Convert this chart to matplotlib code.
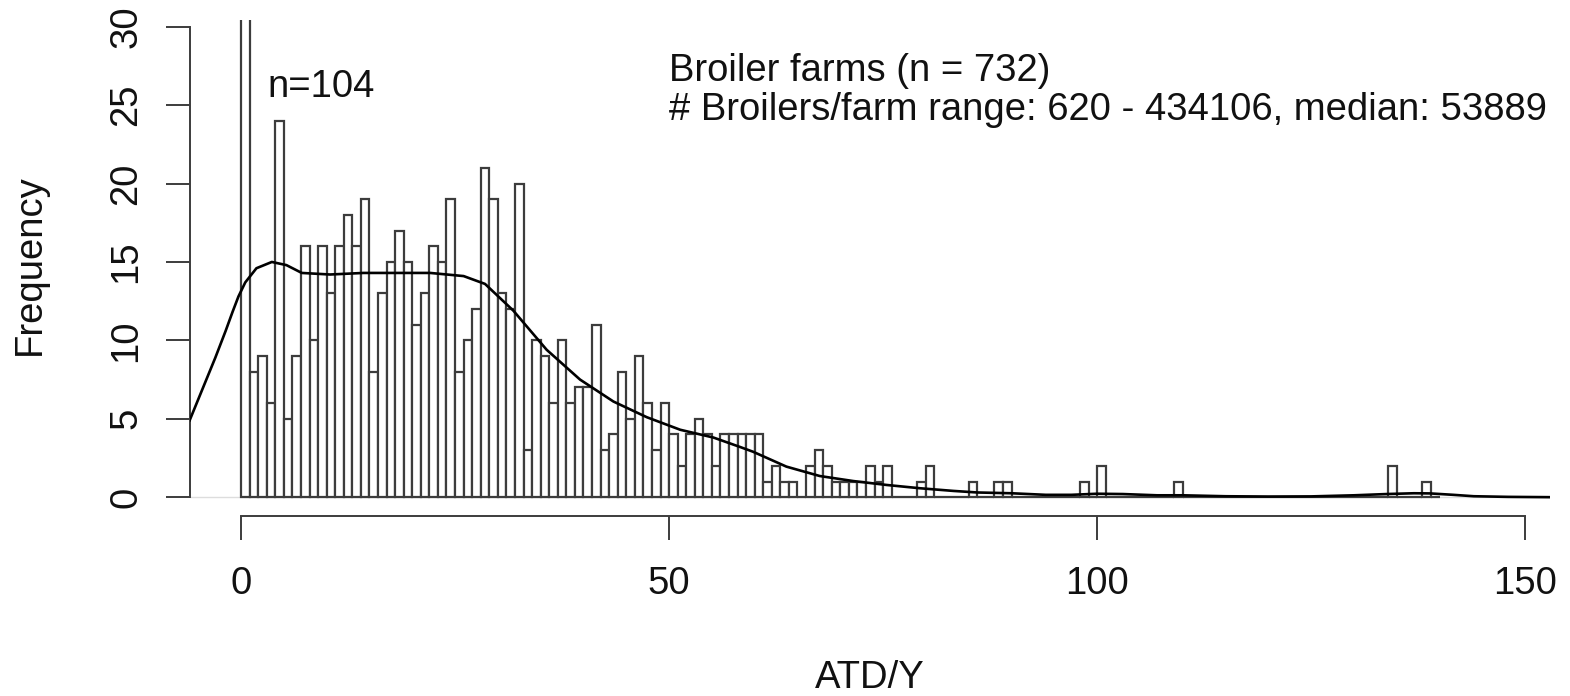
import numpy as np
import matplotlib.pyplot as plt

plt.rcParams['font.family'] = ['Liberation Sans', 'DejaVu Sans']

# histogram counts, 1-unit bins starting at 0
bin_left = np.arange(0, 140)
counts = np.zeros(140)
counts[0:29] = [104, 8, 9, 6, 24, 5, 9, 16, 10, 16, 13, 16, 18, 16, 19, 8, 13, 15,
                17, 15, 11, 13, 16, 15, 19, 8, 10, 12, 21]
counts[29:61] = [19, 13, 12, 20, 3, 10, 9, 6, 10, 6, 7, 7, 11, 3, 4, 8, 5, 9, 6, 3,
                 6, 4, 2, 4, 5, 4, 2, 4, 4, 4, 4, 4]
counts[61:76] = [1, 2, 1, 1, 0, 2, 3, 2, 1, 1, 1, 1, 2, 1, 2]
counts[79] = 1
counts[80] = 2
counts[85] = 1
counts[88] = 1
counts[89] = 1
counts[98] = 1
counts[100] = 2
counts[109] = 1
counts[134] = 2
counts[138] = 1

# density curve (scaled to counts)
curve_x = [-6.0, -4.5, -3.0, -1.8, -1.0, -0.3, 0.5, 1.8, 3.6, 5.3, 7.1, 10.4, 14.3, 18.2,
           22.1, 26.0, 28.5, 31.8, 35.7, 39.6, 43.5, 47.4, 51.3, 55.2, 58.3, 59.8,
           63.7, 67.6, 71.5, 75.4, 79.3, 83.2, 86, 90, 94, 97, 100, 103, 107, 110,
           115, 120, 125, 130, 133.8, 137, 138.9, 141.6, 144, 148, 152.9]
curve_y = [4.9, 6.9, 8.9, 10.6, 11.8, 12.8, 13.7, 14.6, 15.0, 14.8, 14.3, 14.2, 14.3, 14.3,
           14.3, 14.1, 13.6, 11.9, 9.4, 7.5, 6.1, 5.1, 4.3, 3.8, 3.2, 2.9,
           1.95, 1.35, 1.03, 0.78, 0.57, 0.4, 0.3, 0.25, 0.15, 0.15, 0.22, 0.2, 0.12, 0.12,
           0.06, 0.04, 0.05, 0.12, 0.2, 0.25, 0.24, 0.15, 0.06, 0.02, 0.0]

W, H = 1570, 696
fig = plt.figure(figsize=(W / 100, H / 100), dpi=100)
ax = fig.add_axes([190 / W, 1 - 516 / H, (1550 - 190) / W, (516 - 20) / H])

edge = '#3c3c3c'
ax.axhline(0, color='#dddddd', lw=1, zorder=0)
ax.bar(bin_left, counts, width=1, align='edge', facecolor='white',
       edgecolor=edge, linewidth=1.6, zorder=2)
ax.plot(curve_x, curve_y, color='black', lw=1.9, zorder=3)

ax.set_xlim(-5.96, 152.9)
ax.set_ylim(-1.2, 30.43)

for s in ['top', 'right']:
    ax.spines[s].set_visible(False)
ax.spines['left'].set_bounds(0, 30)
ax.spines['bottom'].set_bounds(0, 150)
for s in ['left', 'bottom']:
    ax.spines[s].set_color(edge)
    ax.spines[s].set_linewidth(1.4)

fs = 27.5
ax.set_xticks([0, 50, 100, 150])
ax.set_yticks([0, 5, 10, 15, 20, 25, 30])
ax.tick_params(axis='both', direction='out', length=17, width=1.4, color=edge,
               labelsize=fs, labelcolor='#111111')
ax.tick_params(axis='x', pad=19)
ax.tick_params(axis='y', pad=16)
for lab in ax.get_yticklabels():
    lab.set_rotation(90)
    lab.set_va('center')

ax.text(9.4, 25.5, 'n=104', fontsize=fs, ha='center', va='baseline', color='#111111')
ax.text(50, 26.56, 'Broiler farms (n = 732)', fontsize=fs, ha='left', va='baseline',
        color='#111111')
ax.text(50, 24.06, '# Broilers/farm range: 620 - 434106, median: 53889', fontsize=fs,
        ha='left', va='baseline', color='#111111')

fig.text(30 / W, 1 - 265 / H, 'Frequency', fontsize=fs, rotation=90,
         ha='center', va='center', color='#111111')
fig.text(870 / W, 1 - 678 / H, 'ATD/Y', fontsize=fs, ha='center', va='center',
         color='#111111')

fig.savefig('out.png', dpi=100, facecolor='white')
